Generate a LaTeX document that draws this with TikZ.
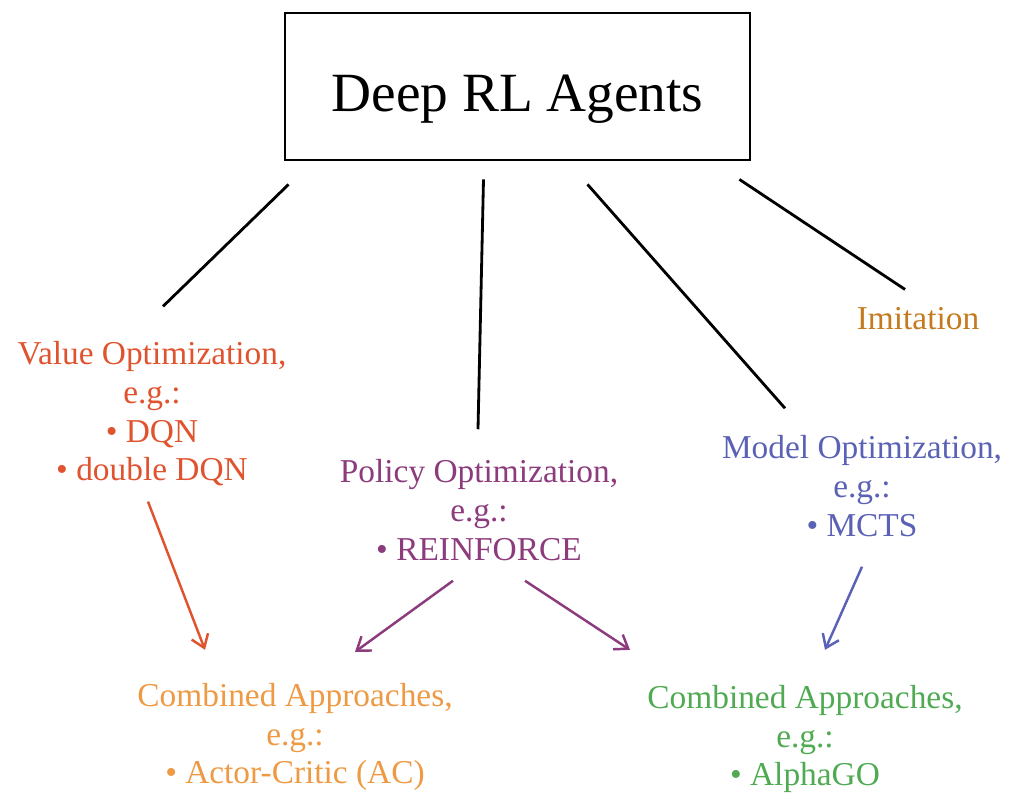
\documentclass[tikz,border=0pt]{standalone}
\usepackage{fontspec}
\setmainfont{Liberation Serif}
\usetikzlibrary{arrows.meta,calc}
\definecolor{valc}{HTML}{E0532F}
\definecolor{polc}{HTML}{8C3B7C}
\definecolor{modc}{HTML}{5B62B5}
\definecolor{imic}{HTML}{C47A1E}
\definecolor{acc}{HTML}{EE9A45}
\definecolor{agc}{HTML}{4FAA52}
\begin{document}
\begin{tikzpicture}[x=0.02cm,y=-0.02cm,
  lbl/.style={align=center,inner sep=0pt,font=\fontsize{19}{22}\selectfont},
  link/.style={line width=1.6pt,black},
  arr/.style={line width=1.4pt,-{Straight Barb[length=7pt,width=10pt]}}]
\useasboundingbox (0,0) rectangle (1012,800);
\node[draw,line width=1.6pt,minimum width=465*0.02cm,minimum height=147*0.02cm,
  text height=35pt,text depth=6.7pt,
  font=\fontsize{31.5}{36}\selectfont] (box) at (517.5,86.5) {Deep RL Agents};
\node[lbl,text=valc] (value) at (152,414) {Value Optimization,\\e.g.:\\\textbullet\ DQN\\\textbullet\ double DQN};
\node[lbl,text=polc] (policy) at (479,510) {Policy Optimization,\\e.g.:\\\textbullet\ REINFORCE};
\node[lbl,text=modc] (model) at (862,486) {Model Optimization,\\e.g.:\\\textbullet\ MCTS};
\node[lbl,text=imic] (imit) at (918,319) {Imitation};
\node[lbl,text=acc] (ac) at (295,737) {Combined Approaches,\\e.g.:\\\textbullet\ Actor-Critic (AC)};
\node[lbl,text=agc] (ag) at (805,739) {Combined Approaches,\\e.g.:\\\textbullet\ AlphaGO};
% connectors from the box
\draw[link] ($(box.south west)+(5,23)$) -- ($(value.north)+(11,-35)$);
\draw[link] ($(box.south)+(-34,18)$) -- ($(policy.north)+(-1,-30)$);
\draw[link] ($(box.south)+(70,23)$) -- ($(model.north)+(-77,-27)$);
\draw[link] ($(box.south east)+(-12,18)$) -- ($(imit.north)+(-13,-18)$);
% arrows
\draw[arr,valc] ($(value.south)+(-4,15)$) -- ($(ac.north)+(-90,-33)$);
\draw[arr,polc] ($(policy.south)+(-26,20)$) -- ($(ac.north)+(60,-31)$);
\draw[arr,polc] ($(policy.south)+(46,20)$) -- ($(ag.north)+(-175,-35)$);
\draw[arr,modc] ($(model.south)+(0,30)$) -- ($(ag.north)+(20,-35)$);
\end{tikzpicture}
\end{document}
